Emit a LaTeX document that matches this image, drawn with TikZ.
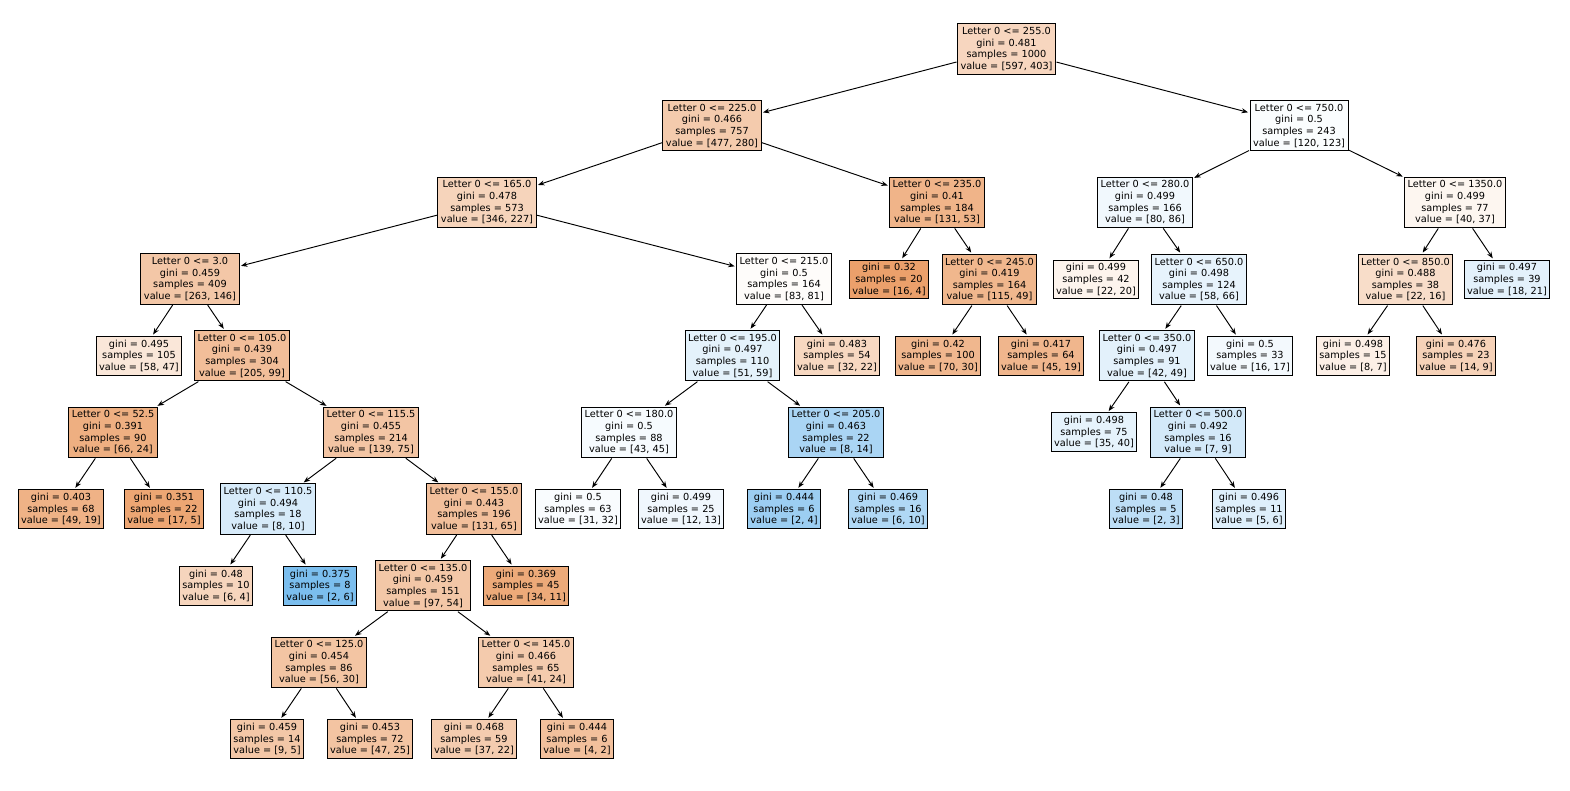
\documentclass[tikz,border=0pt]{standalone}
\usepackage{fontspec}
\setmainfont{DejaVu Sans}
\usetikzlibrary{arrows.meta}
\definecolor{czero}{RGB}{229,129,57}
\definecolor{cone}{RGB}{57,157,229}
\tikzset{
  box/.style={draw=black, line width=1pt, align=center, inner xsep=3pt, inner ysep=3.5pt,
    font=\fontsize{9.75}{11.6}\selectfont},
  ofill/.style={box, fill=czero!#1!white},
  bfill/.style={box, fill=cone!#1!white},
  edge/.style={-{Stealth[length=6.5pt,width=5pt]}, line width=0.95pt, shorten >=1.5pt, shorten <=0.5pt}
}
\begin{document}
\begin{tikzpicture}[x=1pt,y=-1pt]
\useasboundingbox (0,0) rectangle (1570,790);
% level 0
\node[ofill=32.5] (r) at (1006.5,49) {Letter 0 <= 255.0\\gini = 0.481\\samples = 1000\\value = [597, 403]};
% level 1
\node[ofill=41.3] (rl) at (712,125.7) {Letter 0 <= 225.0\\gini = 0.466\\samples = 757\\value = [477, 280]};
\node[bfill=2.4] (rr) at (1299,125.7) {Letter 0 <= 750.0\\gini = 0.5\\samples = 243\\value = [120, 123]};
% level 2
\node[ofill=34.4] (rll) at (487,202.3) {Letter 0 <= 165.0\\gini = 0.478\\samples = 573\\value = [346, 227]};
\node[ofill=59.5] (rlr) at (937,202.3) {Letter 0 <= 235.0\\gini = 0.41\\samples = 184\\value = [131, 53]};
\node[bfill=7.0] (rrl) at (1145,202.3) {Letter 0 <= 280.0\\gini = 0.499\\samples = 166\\value = [80, 86]};
\node[ofill=7.5] (rrr) at (1455,202.3) {Letter 0 <= 1350.0\\gini = 0.499\\samples = 77\\value = [40, 37]};
% level 3
\node[ofill=44.5] (rlll) at (190,279) {Letter 0 <= 3.0\\gini = 0.459\\samples = 409\\value = [263, 146]};
\node[ofill=2.4] (rllr) at (784,279) {Letter 0 <= 215.0\\gini = 0.5\\samples = 164\\value = [83, 81]};
\node[ofill=75] (rlrl) at (889,279.5) {gini = 0.32\\samples = 20\\value = [16, 4]};
\node[ofill=57.4] (rlrr) at (989.5,279.5) {Letter 0 <= 245.0\\gini = 0.419\\samples = 164\\value = [115, 49]};
\node[ofill=9.1] (rrll) at (1096,279.5) {gini = 0.499\\samples = 42\\value = [22, 20]};
\node[bfill=12.1] (rrlr) at (1199,279.5) {Letter 0 <= 650.0\\gini = 0.498\\samples = 124\\value = [58, 66]};
\node[ofill=27.3] (rrrl) at (1405.5,279.5) {Letter 0 <= 850.0\\gini = 0.488\\samples = 38\\value = [22, 16]};
\node[bfill=14.3] (rrrr) at (1507,279.5) {gini = 0.497\\samples = 39\\value = [18, 21]};
% level 4
\node[ofill=19.0] (rllll) at (139,355.7) {gini = 0.495\\samples = 105\\value = [58, 47]};
\node[ofill=51.7] (rlllr) at (242,355.7) {Letter 0 <= 105.0\\gini = 0.439\\samples = 304\\value = [205, 99]};
\node[bfill=13.6] (rllrl) at (732.5,355.7) {Letter 0 <= 195.0\\gini = 0.497\\samples = 110\\value = [51, 59]};
\node[ofill=31.3] (rllrr) at (837,355.7) {gini = 0.483\\samples = 54\\value = [32, 22]};
\node[ofill=57.1] (rlrrl) at (938,355.7) {gini = 0.42\\samples = 100\\value = [70, 30]};
\node[ofill=57.8] (rlrrr) at (1041,355.7) {gini = 0.417\\samples = 64\\value = [45, 19]};
\node[bfill=14.3] (rrlrl) at (1147,355.7) {Letter 0 <= 350.0\\gini = 0.497\\samples = 91\\value = [42, 49]};
\node[bfill=5.9] (rrlrr) at (1250,355.7) {gini = 0.5\\samples = 33\\value = [16, 17]};
\node[ofill=12.5] (rrrll) at (1353,355.7) {gini = 0.498\\samples = 15\\value = [8, 7]};
\node[ofill=35.7] (rrrlr) at (1456,355.7) {gini = 0.476\\samples = 23\\value = [14, 9]};
% level 5
\node[ofill=63.6] (rlllrl) at (113,432.3) {Letter 0 <= 52.5\\gini = 0.391\\samples = 90\\value = [66, 24]};
\node[ofill=46.0] (rlllrr) at (371,432.3) {Letter 0 <= 115.5\\gini = 0.455\\samples = 214\\value = [139, 75]};
\node[bfill=4.4] (rllrll) at (629,432.3) {Letter 0 <= 180.0\\gini = 0.5\\samples = 88\\value = [43, 45]};
\node[bfill=42.9] (rllrlr) at (836,432.3) {Letter 0 <= 205.0\\gini = 0.463\\samples = 22\\value = [8, 14]};
\node[bfill=12.5] (rrlrll) at (1094,432.3) {gini = 0.498\\samples = 75\\value = [35, 40]};
\node[bfill=22.2] (rrlrlr) at (1198,432.3) {Letter 0 <= 500.0\\gini = 0.492\\samples = 16\\value = [7, 9]};
% level 6
\node[ofill=61.2] (rlllrll) at (61,509) {gini = 0.403\\samples = 68\\value = [49, 19]};
\node[ofill=70.6] (rlllrlr) at (164,509) {gini = 0.351\\samples = 22\\value = [17, 5]};
\node[bfill=20] (rlllrrl) at (268,509) {Letter 0 <= 110.5\\gini = 0.494\\samples = 18\\value = [8, 10]};
\node[ofill=50.4] (rlllrrr) at (474,509) {Letter 0 <= 155.0\\gini = 0.443\\samples = 196\\value = [131, 65]};
\node[bfill=3.1] (rllrlll) at (578,509) {gini = 0.5\\samples = 63\\value = [31, 32]};
\node[bfill=7.7] (rllrllr) at (681,509) {gini = 0.499\\samples = 25\\value = [12, 13]};
\node[bfill=50] (rllrlrl) at (784,509) {gini = 0.444\\samples = 6\\value = [2, 4]};
\node[bfill=40] (rllrlrr) at (888,509) {gini = 0.469\\samples = 16\\value = [6, 10]};
\node[bfill=33.3] (rrlrlrl) at (1146,509) {gini = 0.48\\samples = 5\\value = [2, 3]};
\node[bfill=16.7] (rrlrlrr) at (1249,509) {gini = 0.496\\samples = 11\\value = [5, 6]};
% level 7
\node[ofill=33.3] (rlllrrll) at (216,585.7) {gini = 0.48\\samples = 10\\value = [6, 4]};
\node[bfill=66.7] (rlllrrlr) at (320,585.7) {gini = 0.375\\samples = 8\\value = [2, 6]};
\node[ofill=44.3] (rlllrrrl) at (423,585.7) {Letter 0 <= 135.0\\gini = 0.459\\samples = 151\\value = [97, 54]};
\node[ofill=67.6] (rlllrrrr) at (526,585.7) {gini = 0.369\\samples = 45\\value = [34, 11]};
% level 8
\node[ofill=46.4] (p8a) at (319,662.3) {Letter 0 <= 125.0\\gini = 0.454\\samples = 86\\value = [56, 30]};
\node[ofill=41.5] (p8b) at (526,662.3) {Letter 0 <= 145.0\\gini = 0.466\\samples = 65\\value = [41, 24]};
% level 9
\node[ofill=44.4] (p9a) at (267,739) {gini = 0.459\\samples = 14\\value = [9, 5]};
\node[ofill=46.8] (p9b) at (370,739) {gini = 0.453\\samples = 72\\value = [47, 25]};
\node[ofill=40.5] (p9c) at (474,739) {gini = 0.468\\samples = 59\\value = [37, 22]};
\node[ofill=50] (p9d) at (577,739) {gini = 0.444\\samples = 6\\value = [4, 2]};
% edges
\foreach \a/\b in {r/rl, r/rr, rl/rll, rl/rlr, rr/rrl, rr/rrr,
  rll/rlll, rll/rllr, rlr/rlrl, rlr/rlrr, rrl/rrll, rrl/rrlr, rrr/rrrl, rrr/rrrr,
  rlll/rllll, rlll/rlllr, rllr/rllrl, rllr/rllrr, rlrr/rlrrl, rlrr/rlrrr,
  rrlr/rrlrl, rrlr/rrlrr, rrrl/rrrll, rrrl/rrrlr,
  rlllr/rlllrl, rlllr/rlllrr, rllrl/rllrll, rllrl/rllrlr, rrlrl/rrlrll, rrlrl/rrlrlr,
  rlllrl/rlllrll, rlllrl/rlllrlr, rlllrr/rlllrrl, rlllrr/rlllrrr,
  rllrll/rllrlll, rllrll/rllrllr, rllrlr/rllrlrl, rllrlr/rllrlrr,
  rrlrlr/rrlrlrl, rrlrlr/rrlrlrr,
  rlllrrl/rlllrrll, rlllrrl/rlllrrlr, rlllrrr/rlllrrrl, rlllrrr/rlllrrrr,
  rlllrrrl/p8a, rlllrrrl/p8b, p8a/p9a, p8a/p9b, p8b/p9c, p8b/p9d}
  \draw[edge] (\a) -- (\b);
\end{tikzpicture}
\end{document}
